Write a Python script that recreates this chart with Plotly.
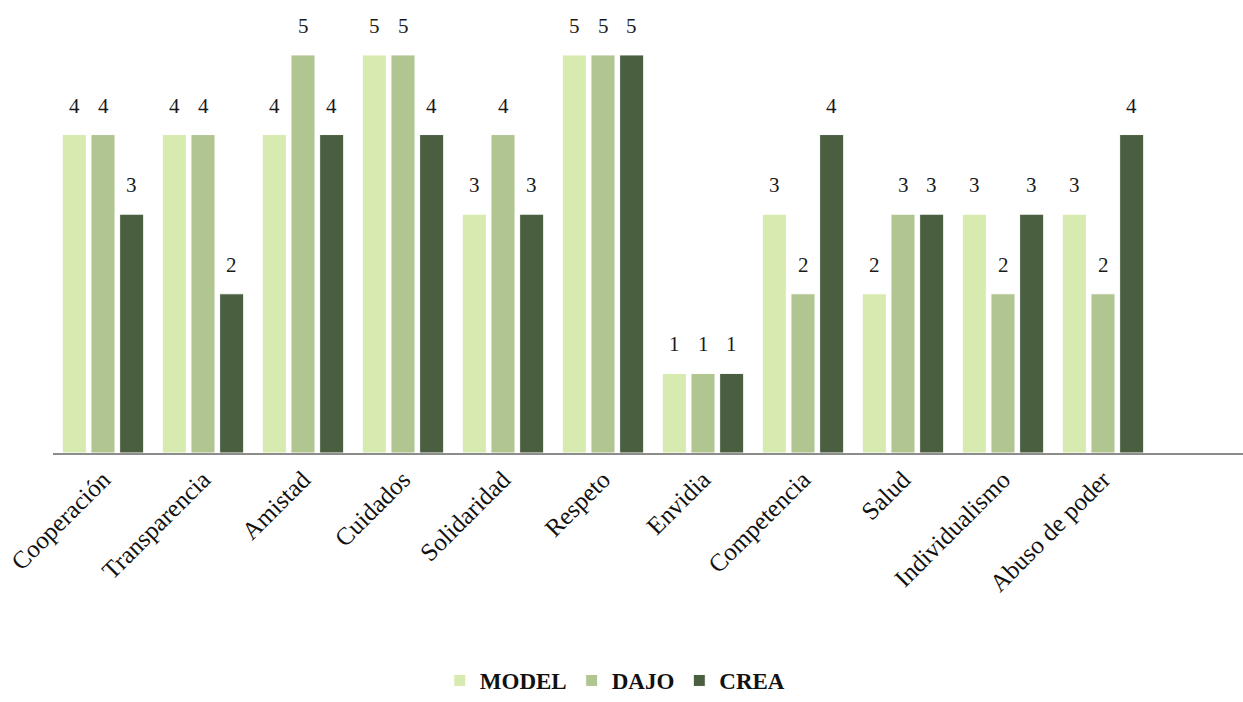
import plotly.graph_objects as go

categories = ["Cooperación", "Transparencia", "Amistad", "Cuidados", "Solidaridad",
              "Respeto", "Envidia", "Competencia", "Salud", "Individualismo",
              "Abuso de poder"]
model = [4, 4, 4, 5, 3, 5, 1, 3, 2, 3, 3]
dajo = [4, 4, 5, 5, 4, 5, 1, 2, 3, 2, 2]
crea = [3, 2, 4, 4, 3, 5, 1, 4, 3, 3, 4]

series = [("MODEL", model, "#D7EBB0"), ("DAJO", dajo, "#B0C590"), ("CREA", crea, "#4A5E40")]

FONT = "Liberation Serif, Times New Roman, serif"
BARGAP = 0.14

fig = go.Figure()
for name, vals, color in series:
    fig.add_trace(go.Bar(
        name=f"<b>{name}</b>", x=categories, y=vals,
        marker=dict(color=color, line=dict(color="white", width=1)),
    ))

# value labels above each bar
n = len(series)
for si, (name, vals, color) in enumerate(series):
    offset = (si - (n - 1) / 2) * (1 - BARGAP) / n
    for ci, v in enumerate(vals):
        fig.add_annotation(
            x=ci + offset, y=v, text=str(v), showarrow=False,
            yanchor="bottom", yshift=15,
            font=dict(family=FONT, size=21, color="#1a1a1a"),
        )

fig.update_layout(
    width=1243, height=702,
    margin=dict(l=53, r=0, t=0, b=249),
    plot_bgcolor="white", paper_bgcolor="white",
    barmode="group", bargap=BARGAP, bargroupgap=0.16,
    showlegend=True,
    legend=dict(
        orientation="h", xref="container", yref="container",
        x=0.495, xanchor="center", y=0.0, yanchor="bottom",
        font=dict(family=FONT, size=23, color="#111"),
        itemwidth=30, traceorder="normal",
    ),
    font=dict(family=FONT),
)
fig.update_xaxes(
    range=[-0.5, 11.4], showgrid=False, tickangle=-45,
    showline=True, linecolor="#8c8c8c", linewidth=2,
    ticks="", tickfont=dict(family=FONT, size=25, color="#111"),
)
fig.update_yaxes(range=[0, 5.69], visible=False, showgrid=False)

fig.write_html("out.html")
